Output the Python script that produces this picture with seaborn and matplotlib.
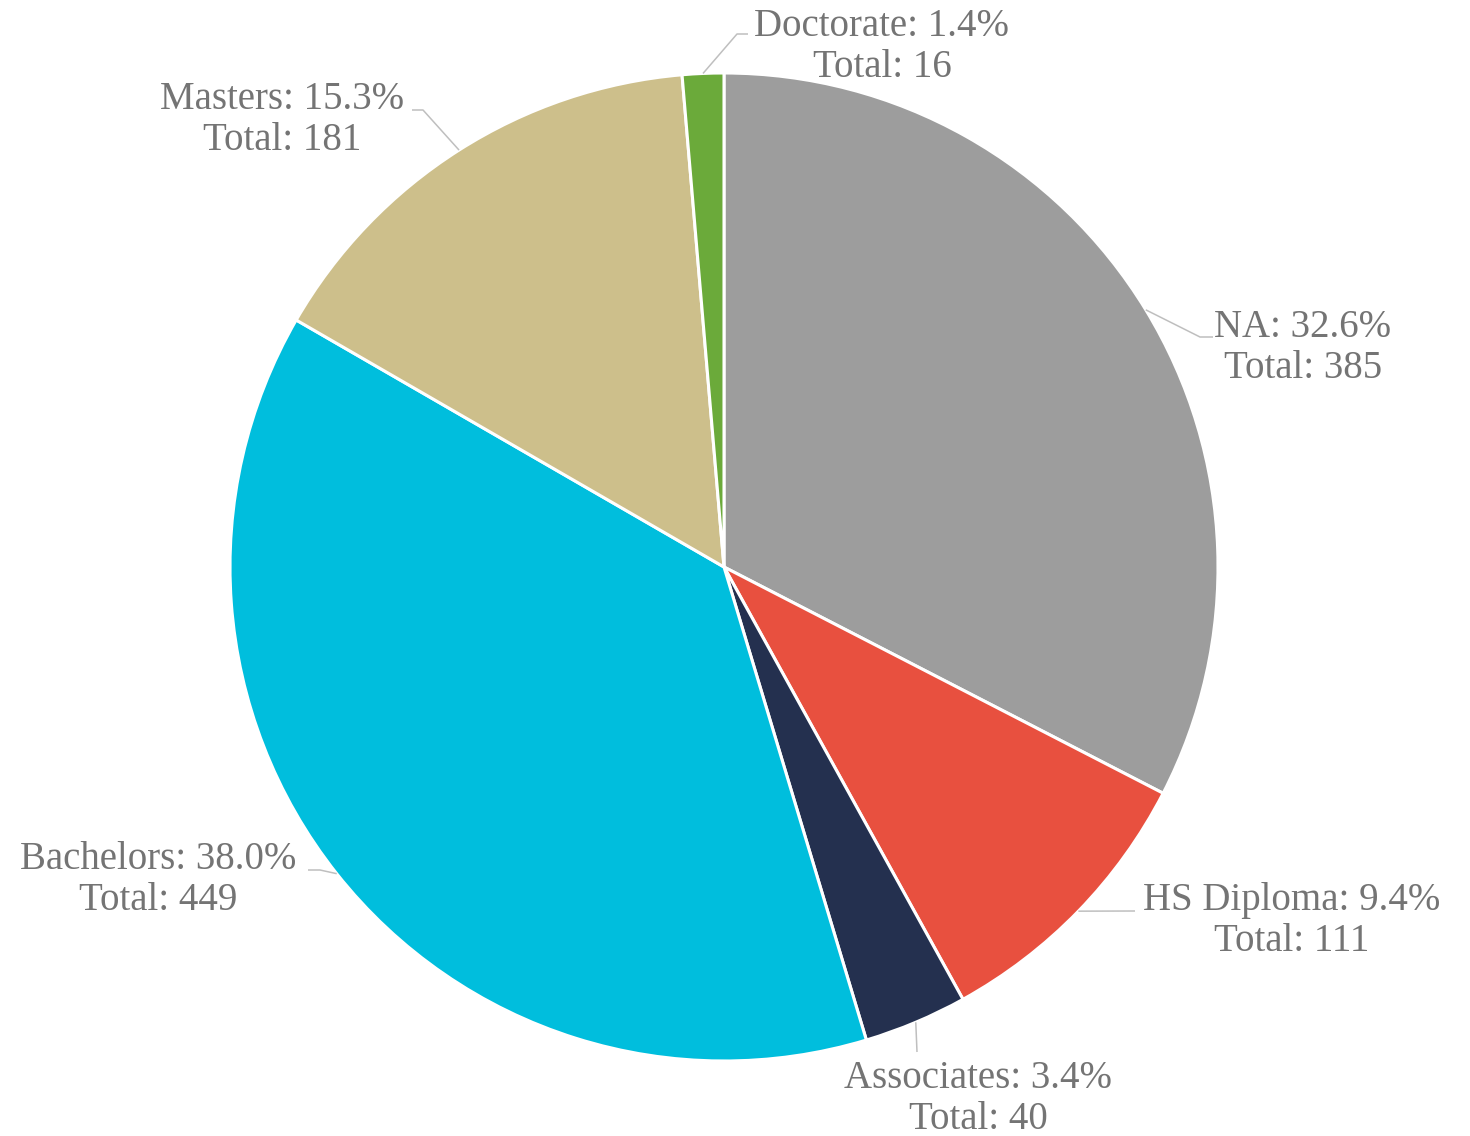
import numpy as np
import matplotlib
matplotlib.use("Agg")
import matplotlib.pyplot as plt
import seaborn as sns

# Survey respondents by highest education level
categories = ["NA", "HS Diploma", "Associates", "Bachelors", "Masters", "Doctorate"]
totals = [385, 111, 40, 449, 181, 16]
colors = ["#9d9d9d", "#e8503f", "#24304f", "#00bedd", "#cdbf8b", "#6baa3a"]

# Label layout in figure pixels (from top-left): leader elbow, leader end, text centre
elbows = [(1200, 337), (1135, 911), (917, 1052), (320, 870), (423, 110), (737, 34)]
ends = [(1213, 337), (1135, 911), (917, 1052), (308, 870), (412, 110), (748, 34)]
text_centers = [(1303, 348), (1292, 921), (978, 1099), (158, 880), (282, 120), (882, 47)]

sns.set_theme(style="white")
plt.rcParams["font.family"] = ["Liberation Serif", "DejaVu Serif"]

W, H = 1470, 1136
CX, CY, RPX = 724, 567, 494

fig = plt.figure(figsize=(W / 100, H / 100), dpi=100)
ax = fig.add_axes([0, 0, 1, 1])

wedges, _ = ax.pie(
    totals,
    colors=colors,
    startangle=90,
    counterclock=False,
    radius=1.0,
    wedgeprops=dict(edgecolor="white", linewidth=2.2),
)

ax.set_xlim(-CX / RPX, (W - CX) / RPX)
ax.set_ylim(-(H - CY) / RPX, CY / RPX)
ax.set_aspect("auto")
ax.axis("off")


def px(p):
    x, y = p
    return (x - CX) / RPX, (CY - y) / RPX


grand = sum(totals)
text_color = "#747474"
line_color = "#bfbfbf"

for w, cat, tot, elb, end, tc in zip(wedges, categories, totals, elbows, ends, text_centers):
    mid = np.deg2rad((w.theta1 + w.theta2) / 2)
    start = (np.cos(mid), np.sin(mid))
    e1 = px(elb)
    e2 = px(end)
    ax.plot([start[0], e1[0], e2[0]], [start[1], e1[1], e2[1]],
            color=line_color, lw=1.1, solid_capstyle="butt", zorder=1)
    pct = tot / grand * 100
    tx, ty = px(tc)
    ax.text(tx, ty, f"{cat}: {pct:.1f}%\nTotal: {tot}",
            ha="center", va="center", multialignment="center",
            fontsize=28, color=text_color, linespacing=1.15)

fig.savefig("out.png", dpi=100, facecolor="white")
